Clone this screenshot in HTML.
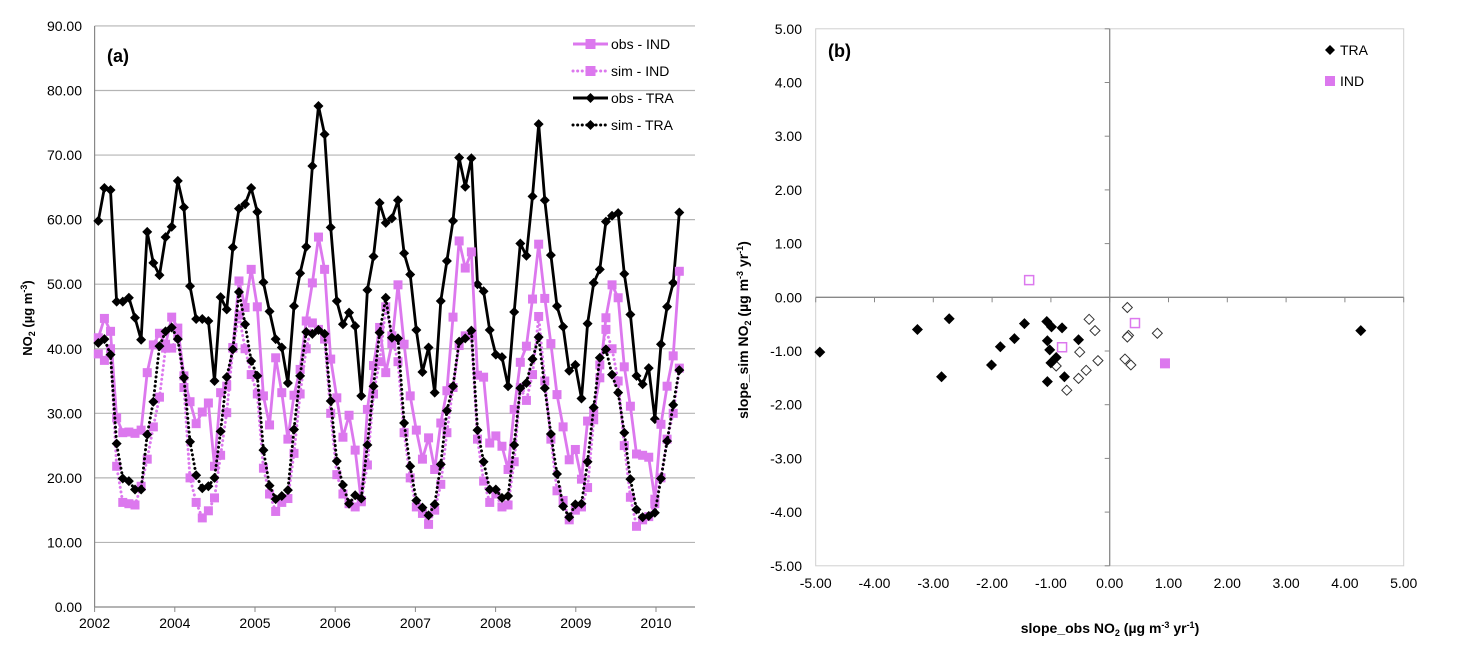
<!DOCTYPE html>
<html><head><meta charset="utf-8"><style>
html,body{margin:0;padding:0;background:#fff;}
svg{display:block;font-family:"Liberation Sans",sans-serif;}
</style></head><body>
<svg id="c" width="1458" height="650" viewBox="0 0 1458 650"></svg>
<script>
// ---- panel (a) data ----
const yearLabels=["2002","2004","2005","2006","2007","2008","2009","2010"];
const yTicksA=[0,10,20,30,40,50,60,70,80,90];
const obsTRA=[59.8,64.9,64.6,47.3,47.3,47.9,44.8,41.4,58.1,53.3,51.4,57.3,58.9,66.0,61.9,49.7,44.6,44.6,44.3,35.0,48.0,46.1,55.7,61.7,62.4,64.9,61.2,50.3,45.8,41.5,40.2,34.7,46.6,51.7,55.8,68.3,77.6,73.2,58.8,47.4,43.8,45.6,43.5,32.7,49.1,54.3,62.6,59.5,60.2,63.0,54.8,51.5,42.9,36.4,40.2,33.2,47.4,53.6,59.8,69.6,65.1,69.5,50.0,48.9,42.9,39.1,38.7,34.2,45.7,56.3,54.4,63.6,74.8,63.0,54.5,46.6,43.4,36.6,37.5,32.3,43.9,50.2,52.3,59.7,60.6,61.0,51.6,45.3,35.8,34.5,37.0,29.1,40.7,46.5,50.2,61.1];
const obsIND=[41.7,44.7,42.7,29.3,27.0,27.1,26.9,27.4,36.3,40.6,42.4,40.7,44.9,43.2,35.8,31.8,28.4,30.2,31.6,21.8,33.2,34.2,40.2,50.5,46.4,52.3,46.5,32.7,28.2,38.6,33.2,26.0,32.8,36.8,44.3,50.2,57.3,52.3,38.4,32.4,26.3,29.7,24.3,16.3,30.6,37.4,43.3,36.3,40.8,49.9,40.7,32.7,27.4,22.9,26.2,21.3,28.5,33.5,44.9,56.7,52.5,55.0,35.9,35.6,25.4,26.5,24.9,21.3,30.6,37.9,40.4,47.7,56.2,47.8,40.8,32.9,27.9,22.8,24.4,19.8,28.8,30.3,35.5,44.8,49.9,47.9,37.2,31.1,23.7,23.5,23.2,16.7,28.3,34.2,38.9,52.0];
const simTRA=[40.9,41.5,39.1,25.3,19.9,19.5,18.2,18.2,26.7,31.8,40.4,42.7,43.3,41.5,35.5,25.6,20.4,18.4,18.7,20.0,27.2,35.6,39.9,48.8,43.8,38.1,35.8,24.3,18.8,16.7,17.2,18.1,27.5,35.8,42.6,42.3,42.9,42.3,31.9,22.6,18.9,16.0,17.3,16.8,25.1,34.2,42.5,47.9,41.7,41.6,28.5,21.8,16.5,15.4,14.2,15.9,22.1,30.4,34.2,41.1,41.6,42.8,27.4,22.5,18.2,18.2,16.9,17.2,25.1,33.9,34.7,38.4,41.8,33.9,26.8,20.6,15.6,13.9,15.9,16.0,22.5,30.9,38.6,39.9,36.0,33.2,27.0,19.8,15.1,13.9,14.1,14.6,19.9,25.7,31.3,36.7];
const simIND=[39.2,38.2,40.0,21.8,16.2,16.0,15.8,18.7,22.9,27.9,32.5,40.1,40.1,42.0,34.0,20.0,16.2,13.8,14.9,16.9,23.5,30.1,40.1,45.2,40.0,36.0,33.0,21.5,17.5,14.8,16.2,16.8,23.8,33.0,40.0,44.0,43.0,41.5,30.0,20.5,17.5,16.0,15.5,16.5,22.0,33.0,38.0,46.5,42.0,38.0,27.0,20.0,15.5,14.5,12.8,15.0,19.0,27.0,34.0,40.5,42.0,42.0,26.0,19.5,16.2,17.5,15.5,15.8,22.5,34.0,32.0,36.0,45.0,35.0,26.0,18.0,16.5,13.5,15.0,15.5,18.5,29.0,37.5,43.0,40.0,35.0,25.0,17.0,12.5,13.5,14.0,16.0,20.0,26.0,30.0,37.0];
// ---- panel (b) data ----
const bTicks=[-5,-4,-3,-2,-1,0,1,2,3,4,5];
const traFilledX=[-4.93,-3.27,-2.73,-2.86,-2.01,-1.86,-1.62,-1.45,-1.07,-0.99,-0.81,-1.06,-1.02,-0.53,-0.91,-1.00,-0.77,-1.06,4.27];
const traFilledY=[-1.02,-0.60,-0.40,-1.48,-1.26,-0.92,-0.77,-0.49,-0.45,-0.55,-0.57,-0.81,-0.98,-0.79,-1.12,-1.22,-1.48,-1.57,-0.62];
const traOpenX=[0.30,-0.35,-0.25,-0.51,-0.20,-0.40,-0.53,-0.73,-0.91,0.81,0.32,0.30,0.26,0.36];
const traOpenY=[-0.19,-0.41,-0.62,-1.02,-1.18,-1.36,-1.51,-1.73,-1.28,-0.67,-0.71,-0.74,-1.15,-1.26];
const indOpenX=[-1.37,-0.81,0.43];
const indOpenY=[0.32,-0.93,-0.48];
const indFilledX=[0.94];
const indFilledY=[-1.23];

const NS="http://www.w3.org/2000/svg";
const svg=document.getElementById('c');
const PINK="#dc78ee";
function mk(tag,attrs,parent){const e=document.createElementNS(NS,tag);for(const k in attrs)e.setAttribute(k,attrs[k]);(parent||svg).appendChild(e);return e;}
function txt(s,x,y,attrs,parent){const e=mk('text',Object.assign({x:x,y:y,'font-size':14,fill:'#000'},attrs||{}),parent);e.textContent=s;return e;}

// ===== Panel A =====
const A={x0:94.6,x1:695,y0:607,pxPerUnit:6.456,first:98.3,step:6.116,label:80.2};
const ax=i=>A.first+i*A.step;
const ay=v=>A.y0-v*A.pxPerUnit;
const gA=mk('g',{});


yTicksA.forEach(v=>{
  if(v>0){const l=mk('line',{x1:A.x0,x2:A.x1,y1:ay(v),y2:ay(v),stroke:'#b4b4b4','stroke-width':1.2},gA);
  }
  const t=txt(v.toFixed(2),82,ay(v)+5,{'text-anchor':'end'},gA);
  
});
const yaxA=mk('line',{x1:A.x0,x2:A.x0,y1:ay(90),y2:A.y0,stroke:'#888','stroke-width':1.2},gA);

const xaxA=mk('line',{x1:A.x0,x2:A.x1,y1:A.y0,y2:A.y0,stroke:'#888','stroke-width':1.2},gA);

yearLabels.forEach((s,k)=>{
  const x=A.x0+k*A.label;
  mk('line',{x1:x,x2:x,y1:A.y0,y2:A.y0+5,stroke:'#888','stroke-width':1},gA);
  const t=txt(s,x,628,{'text-anchor':'middle'},gA);
  
});
const yt=mk('text',{x:0,y:0,'font-size':13,'font-weight':'bold','text-anchor':'middle',transform:'translate(32,318) rotate(-90)'});

yt.innerHTML='NO<tspan font-size="9" dy="3">2</tspan><tspan dy="-3"> (µg m</tspan><tspan font-size="9" dy="-5">-3</tspan><tspan dy="5">)</tspan>';
const la=txt('(a)',107,62,{'font-size':18,'font-weight':'bold'});


function pathOf(arr){return arr.map((v,i)=>(i?'L':'M')+ax(i).toFixed(1)+' '+ay(v).toFixed(1)).join(' ');}
function diamond(x,y,r,fill,parent){return mk('path',{d:`M${x} ${y-r}L${x+r} ${y}L${x} ${y+r}L${x-r} ${y}Z`,fill:fill,stroke:fill==='none'?'#333':'none','stroke-width':1},parent);}
function square(x,y,r,fill,parent,stroke){return mk('rect',{x:x-r,y:y-r,width:2*r,height:2*r,fill:fill,stroke:stroke||'none','stroke-width':1.5},parent);}

const series=[
 {data:obsTRA,color:'#000',dash:null,mark:'d',name:'obs-tra'},
 {data:obsIND,color:PINK,dash:null,mark:'s',name:'obs-ind'},
 {data:simIND,color:PINK,dash:'0.1 4.5',mark:'s',name:'sim-ind'},
 {data:simTRA,color:'#000',dash:'0.1 4.5',mark:'d',name:'sim-tra'}
];
series.forEach(s=>{
  const g=mk('g',{},gA);
  
  
  const attrs={d:pathOf(s.data),fill:'none',stroke:s.color,'stroke-width':s.dash?3:2.8,'stroke-linejoin':'round'};
  if(s.dash){attrs['stroke-dasharray']=s.dash;attrs['stroke-linecap']='round';}
  mk('path',attrs,g);
  s.data.forEach((v,i)=>{
    const m=s.mark==='d'?diamond(ax(i),ay(v),5,'#000',g):square(ax(i),ay(v),4.5,PINK,g);
    
    
  });
});
// legend A
const legA=mk('g',{});


[['obs - IND',PINK,null,'s',44],['sim - IND',PINK,'0.1 4.5','s',71],['obs - TRA','#000',null,'d',98],['sim - TRA','#000','0.1 4.5','d',125]].forEach(r=>{
  const g=mk('g',{},legA);
  
  
  const a={x1:573,x2:608,y1:r[4],y2:r[4],stroke:r[1],'stroke-width':3};
  if(r[2]){a['stroke-dasharray']=r[2];a['stroke-linecap']='round';}
  mk('line',a,g);
  if(r[3]==='d')diamond(590.5,r[4],5,'#000',g);else square(590.5,r[4],5,PINK,g);
  txt(r[0],611,r[4]+5,{'font-size':14},g);
});

// ===== Panel B =====
const B={x0:1109.7,y0:297.3,sx:58.8,sy:53.7};
const bx=v=>B.x0+v*B.sx;
const by=v=>B.y0-v*B.sy;
const gB=mk('g',{});


const pa=mk('rect',{x:bx(-5),y:by(5),width:bx(5)-bx(-5),height:by(-5)-by(5),fill:'none',stroke:'#d0d0d0','stroke-width':1},gB);

const xb=mk('line',{x1:bx(-5),x2:bx(5),y1:by(0),y2:by(0),stroke:'#888','stroke-width':1.3},gB);

const yb=mk('line',{x1:bx(0),x2:bx(0),y1:by(5),y2:by(-5),stroke:'#888','stroke-width':1.3},gB);

bTicks.forEach(v=>{
  mk('line',{x1:bx(v),x2:bx(v),y1:by(0),y2:by(0)+5,stroke:'#888','stroke-width':1},gB);
  mk('line',{x1:bx(0)-5,x2:bx(0),y1:by(v),y2:by(v),stroke:'#888','stroke-width':1},gB);
  const t1=txt(v.toFixed(2),bx(v),588,{'text-anchor':'middle'},gB);
  
  const t2=txt(v.toFixed(2),802,by(v)+5,{'text-anchor':'end'},gB);
  
});
const lb=txt('(b)',828,57,{'font-size':18,'font-weight':'bold'});

const xtB=mk('text',{x:1110,y:633,'font-size':14,'font-weight':'bold','text-anchor':'middle'});

xtB.innerHTML='slope_obs  NO<tspan font-size="9" dy="3">2</tspan><tspan dy="-3"> (µg m</tspan><tspan font-size="9" dy="-5">-3</tspan><tspan dy="5"> yr</tspan><tspan font-size="9" dy="-5">-1</tspan><tspan dy="5">)</tspan>';
const ytB=mk('text',{x:0,y:0,'font-size':14,'font-weight':'bold','text-anchor':'middle',transform:'translate(748,330) rotate(-90)'});

ytB.innerHTML='slope_sim NO<tspan font-size="9" dy="3">2</tspan><tspan dy="-3"> (µg m</tspan><tspan font-size="9" dy="-5">-3</tspan><tspan dy="5"> yr</tspan><tspan font-size="9" dy="-5">-1</tspan><tspan dy="5">)</tspan>';

traOpenX.forEach((v,i)=>{const m=mk('path',{d:`M${bx(v)} ${by(traOpenY[i])-5}l5 5l-5 5l-5 -5Z`,fill:'#fff',stroke:'#333','stroke-width':1},gB);
  });
traFilledX.forEach((v,i)=>{const m=diamond(bx(v),by(traFilledY[i]),5.5,'#000',gB);
  });
indOpenX.forEach((v,i)=>{const m=square(bx(v),by(indOpenY[i]),4.5,'#fff',gB,PINK);
  });
indFilledX.forEach((v,i)=>{const m=square(bx(v),by(indFilledY[i]),5,PINK,gB);
  });
// legend B
const legB=mk('g',{});


const e1=mk('g',{},legB);
diamond(1330,50,5,'#000',e1);txt('TRA',1340,55,{'font-size':14},e1);
const e2=mk('g',{},legB);
square(1330,81,5,PINK,e2);txt('IND',1340,86,{'font-size':14},e2);
</script>
</body></html>
